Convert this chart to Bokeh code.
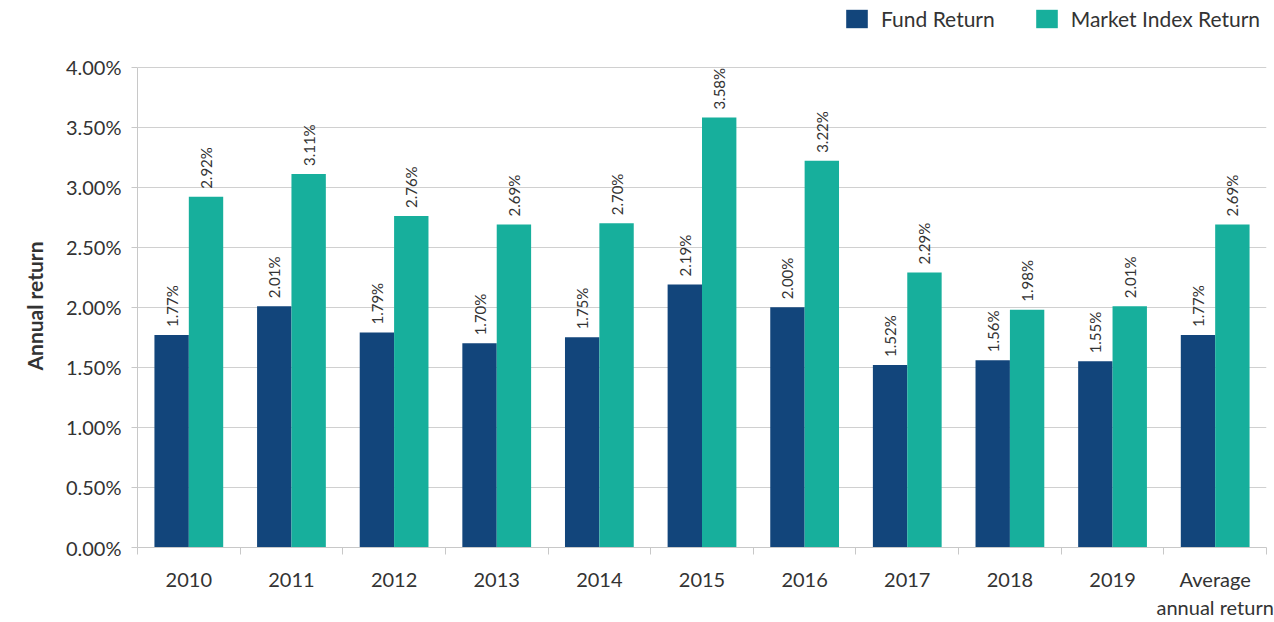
import numpy as np
from bokeh.plotting import figure
from bokeh.models import (ColumnDataSource, Range1d, FixedTicker, PrintfTickFormatter,
                          Legend, LegendItem, Title)
from bokeh.core.properties import value
from bokeh.embed import file_html
from bokeh.resources import INLINE

categories = ["2010", "2011", "2012", "2013", "2014", "2015", "2016", "2017", "2018", "2019",
              "Average\nannual return"]
fund_return = [1.77, 2.01, 1.79, 1.70, 1.75, 2.19, 2.00, 1.52, 1.56, 1.55, 1.77]
market_return = [2.92, 3.11, 2.76, 2.69, 2.70, 3.58, 3.22, 2.29, 1.98, 2.01, 2.69]
y_ticks = [0.0, 0.5, 1.0, 1.5, 2.0, 2.5, 3.0, 3.5, 4.0]

FUND = "#12457b"
MARKET = "#17af9c"
FONT = "Lato"
TXT = "#333333"

n = len(categories)
idx = np.arange(n)
bw = 0.335

src_f = ColumnDataSource(dict(x=idx + 0.5 - bw / 2, top=fund_return,
                              lab=["%.2f%%" % v for v in fund_return]))
src_m = ColumnDataSource(dict(x=idx + 0.5 + bw / 2, top=market_return,
                              lab=["%.2f%%" % v for v in market_return]))

# frame extends above the 4.00% line so the legend can sit inside it
FRAME_TOP = 5
AXIS_TOP_PX = 67
AXIS_BOTTOM_PX = 550
y_end = 4.0 * (AXIS_BOTTOM_PX - FRAME_TOP) / (AXIS_BOTTOM_PX - AXIS_TOP_PX)

p = figure(width=1274, height=622, output_backend="svg", toolbar_location=None,
           x_range=Range1d(0, n), y_range=Range1d(0, y_end))
p.min_border_left = 137
p.min_border_right = 8
p.min_border_top = FRAME_TOP
p.min_border_bottom = 72
p.outline_line_color = None
p.background_fill_color = "white"
p.border_fill_color = "white"

rf = p.vbar(x="x", top="top", width=bw, bottom=0, source=src_f, fill_color=FUND, line_color=None)
rm = p.vbar(x="x", top="top", width=bw, bottom=0, source=src_m, fill_color=MARKET, line_color=None)

for s in (src_f, src_m):
    p.text(x="x", y="top", text="lab", source=s, angle=np.pi / 2, text_align="left",
           text_baseline="middle", y_offset=-8, text_font=value(FONT),
           text_font_size="15px", text_color=TXT)

# x axis
xt = FixedTicker(ticks=list(idx + 0.5), minor_ticks=list(range(n + 1)))
p.xaxis.ticker = xt
p.xaxis.major_label_overrides = {float(i + 0.5): c for i, c in enumerate(categories)}
p.xaxis.major_tick_out = 0
p.xaxis.major_tick_in = 0
p.xaxis.minor_tick_out = 7
p.xaxis.minor_tick_in = 0
p.xaxis.minor_tick_line_color = "#c8c8c8"
p.xaxis.axis_line_color = "#c8c8c8"
p.xaxis.major_label_standoff = 12
p.xaxis.major_label_text_font = FONT
p.xaxis.major_label_text_font_size = "20px"
p.xaxis.major_label_text_color = TXT

# y axis
p.yaxis.ticker = FixedTicker(ticks=y_ticks)
p.yaxis.bounds = (0, 4.0)
p.yaxis.formatter = PrintfTickFormatter(format="%.2f%%")
p.yaxis.minor_tick_line_color = None
p.yaxis.major_tick_out = 6
p.yaxis.major_tick_in = 0
p.yaxis.major_tick_line_color = "#c8c8c8"
p.yaxis.axis_line_color = "#c8c8c8"
p.yaxis.major_label_standoff = 10
p.yaxis.major_label_text_font = FONT
p.yaxis.major_label_text_font_size = "20px"
p.yaxis.major_label_text_color = TXT

ylabel = Title(text="Annual return", align="left", vertical_align="top", text_font=FONT,
               text_font_style="bold", text_font_size="21px", text_color=TXT,
               offset=177, standoff=27)
p.add_layout(ylabel, "left")

p.xgrid.grid_line_color = None
p.ygrid.ticker = FixedTicker(ticks=y_ticks)
p.ygrid.grid_line_color = "#d0d0d0"
p.ygrid.grid_line_width = 1

legend = Legend(items=[LegendItem(label="Fund Return", renderers=[rf]),
                       LegendItem(label="Market Index Return", renderers=[rm])],
                orientation="horizontal", location=(706, AXIS_BOTTOM_PX - 34))
legend.glyph_width = 27
legend.glyph_height = 23
legend.label_height = 23
legend.label_standoff = 11
legend.spacing = 38
legend.padding = 0
legend.margin = 0
legend.border_line_color = None
legend.background_fill_alpha = 0
legend.label_text_font = FONT
legend.label_text_font_size = "21px"
legend.label_text_color = TXT
legend.label_text_baseline = "middle"
p.add_layout(legend, "center")

open("out.html", "w").write(file_html(p, INLINE))
